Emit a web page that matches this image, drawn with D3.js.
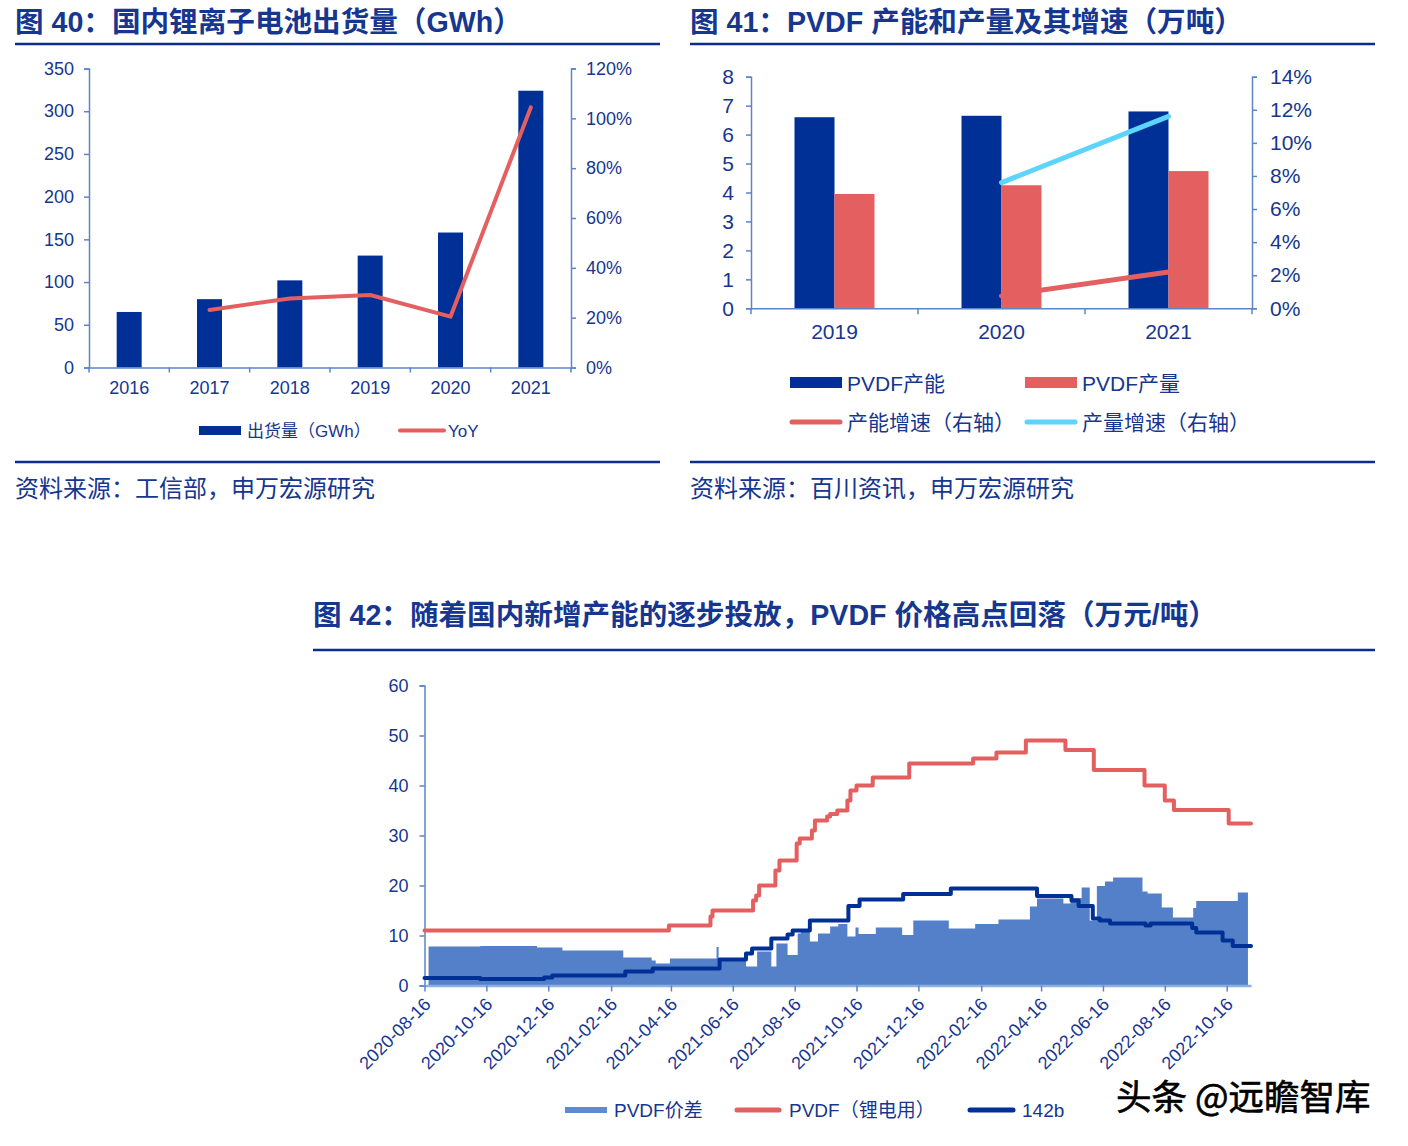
<!DOCTYPE html>
<html>
<head>
<meta charset="utf-8">
<script src="https://cdn.jsdelivr.net/npm/d3@7"></script>
<style>
  body { margin: 0; background: #fff; }
  svg text { font-family: "Liberation Sans", Arial, "Noto Sans CJK SC", sans-serif; }
</style>
</head>
<body>
<script>
// ---- data: 图40 ----
const years40 = ['2016', '2017', '2018', '2019', '2020', '2021'];
const shipments = [65, 80, 102, 131, 158, 324];
const shipYoY = [null, 0.231, 0.277, 0.291, 0.204, 1.044];

// ---- data: 图41 ----
const years41 = ['2019', '2020', '2021'];
const pvdfCapacity = [6.6, 6.65, 6.8];
const pvdfOutput = [3.95, 4.25, 4.74];
const capGrowth = [null, 0.0075, 0.022];
const outGrowth = [null, 0.076, 0.116];

// ---- data: 图42 (万元/吨) ----
const xTickLabels = ['2020-08-16', '2020-10-16', '2020-12-16', '2021-02-16', '2021-04-16', '2021-06-16',
  '2021-08-16', '2021-10-16', '2021-12-16', '2022-02-16', '2022-04-16', '2022-06-16', '2022-08-16', '2022-10-16'];
const pvdfPrice = [
  ['2020-08-16', 11], ['2021-04-14', 12], ['2021-05-25', 13.8], ['2021-05-27', 15], ['2021-07-06', 17],
  ['2021-07-09', 18], ['2021-07-12', 20], ['2021-07-28', 23], ['2021-08-01', 25], ['2021-08-18', 28.4],
  ['2021-08-21', 29.4], ['2021-09-02', 31], ['2021-09-05', 33], ['2021-09-17', 33.8], ['2021-09-20', 34.3],
  ['2021-09-27', 35], ['2021-10-07', 37], ['2021-10-10', 39], ['2021-10-16', 40], ['2021-11-01', 41.6],
  ['2021-12-07', 44.4], ['2022-02-08', 45.4], ['2022-03-03', 46.6], ['2022-04-01', 49], ['2022-05-10', 47.1],
  ['2022-06-07', 43.1], ['2022-07-27', 40], ['2022-08-16', 37], ['2022-08-25', 35.1], ['2022-10-18', 32.4],
  ['2022-11-09', 32.4]
];
const price142b = [
  ['2020-08-16', 1.5], ['2020-10-10', 1.3], ['2020-12-12', 1.6], ['2020-12-20', 2.0], ['2021-03-02', 2.8],
  ['2021-03-29', 3.4], ['2021-06-03', 5.2], ['2021-06-29', 6.4], ['2021-07-05', 7.4], ['2021-07-24', 9.4],
  ['2021-08-09', 10.2], ['2021-08-14', 11], ['2021-08-31', 13], ['2021-10-08', 15.9], ['2021-10-19', 17.2],
  ['2021-12-01', 18.3], ['2022-01-17', 19.4], ['2022-04-12', 17.9], ['2022-05-16', 17], ['2022-05-23', 15.9],
  ['2022-06-06', 13.4], ['2022-06-13', 13], ['2022-06-23', 12.4], ['2022-07-28', 12], ['2022-08-02', 12.4],
  ['2022-09-12', 11.5], ['2022-09-16', 10.6], ['2022-10-12', 9], ['2022-10-22', 7.9], ['2022-11-09', 7.9]
];
const pvdfSpread = [
  ['2020-08-20', 7.8], ['2020-10-10', 7.9], ['2020-12-05', 7.6], ['2020-12-30', 7.0], ['2021-02-28', 5.6],
  ['2021-03-28', 5.0], ['2021-04-01', 4.4], ['2021-04-15', 5.4], ['2021-05-31', 7.7], ['2021-06-02', 5.4],
  ['2021-06-03', 5.2], ['2021-06-29', 3.8], ['2021-07-10', 6.8], ['2021-07-24', 3.8], ['2021-07-29', 8.4],
  ['2021-08-09', 6.1], ['2021-08-19', 10.4], ['2021-08-22', 10.8], ['2021-08-31', 8.8], ['2021-09-08', 10.4],
  ['2021-09-20', 11.8], ['2021-09-28', 12.3], ['2021-10-07', 9.8], ['2021-10-15', 11.6], ['2021-10-18', 10.3],
  ['2021-11-04', 11.6], ['2021-11-30', 10.1], ['2021-12-11', 13], ['2022-01-15', 11.4], ['2022-02-10', 12.3],
  ['2022-03-05', 13.2], ['2022-04-05', 15.8], ['2022-04-12', 17.4], ['2022-05-08', 16.4], ['2022-05-15', 17.5],
  ['2022-05-26', 19.6], ['2022-06-03', 13], ['2022-06-10', 19.9], ['2022-06-18', 20.8], ['2022-06-26', 21.6],
  ['2022-07-25', 18.8], ['2022-07-30', 18.4], ['2022-08-13', 15.6], ['2022-08-24', 13.6], ['2022-09-13', 15.5],
  ['2022-09-16', 16.9], ['2022-10-27', 18.6], ['2022-11-06', 18.6]
];

const NAVY = '#003095';
const RED = '#E46060';
const CYAN = '#5DD4FB';
const AREA = '#5380C8';
const TXT = '#16368F';
const AXIS = '#5B85C8';

const svg = d3.select('body').append('svg')
  .attr('width', 1408)
  .attr('height', 1146);

function styleAxis(g, size) {
  g.select('.domain').attr('stroke', AXIS).attr('stroke-width', 1.5);
  g.selectAll('.tick line').attr('stroke', AXIS).attr('stroke-width', 1.5);
  g.selectAll('.tick text').attr('fill', TXT).style('font-size', size + 'px');
}

function header(x, x2, y, gap, title) {
  svg.append('text').attr('x', x).attr('y', y)
    .attr('fill', TXT).style('font-size', '28.6px').style('font-weight', 'bold')
    .text(title);
  svg.append('line').attr('x1', x).attr('x2', x2).attr('y1', y + gap).attr('y2', y + gap)
    .attr('stroke', '#0D2D8E').attr('stroke-width', 2.5);
}

function footer(x, x2, source) {
  svg.append('line').attr('x1', x).attr('x2', x2).attr('y1', 462).attr('y2', 462)
    .attr('stroke', '#0D2D8E').attr('stroke-width', 2.5);
  svg.append('text').attr('x', x).attr('y', 497)
    .attr('fill', TXT).style('font-size', '24px')
    .text(source);
}

// ================= 图40 =================
header(15, 660, 32, 12, '图 40：国内锂离子电池出货量（GWh）');
footer(15, 660, '资料来源：工信部，申万宏源研究');

const x40 = d3.scaleBand().domain(years40).range([89, 571]);
const y40 = d3.scaleLinear().domain([0, 350]).range([367.5, 68.5]);
const y40r = d3.scaleLinear().domain([0, 1.2]).range([367.5, 68.5]);

svg.append('g').attr('transform', 'translate(89,0)')
  .call(d3.axisLeft(y40).tickValues(d3.range(0, 351, 50)).tickSize(5).tickPadding(10))
  .call(g => styleAxis(g, 18));
svg.append('g').attr('transform', 'translate(571,0)')
  .call(d3.axisRight(y40r).tickValues(d3.range(0, 1.21, 0.2)).tickFormat(d3.format('.0%')).tickSize(5).tickPadding(10))
  .call(g => styleAxis(g, 18));

svg.append('g').selectAll('rect').data(shipments).join('rect')
  .attr('x', (d, i) => x40(years40[i]) + x40.bandwidth() / 2 - 12.5)
  .attr('width', 25)
  .attr('y', d => y40(d))
  .attr('height', d => y40(0) - y40(d))
  .attr('fill', NAVY);

const xa40 = svg.append('g').attr('transform', 'translate(0,367.5)')
  .call(d3.axisBottom(x40).tickSize(0).tickPadding(14))
  .call(g => styleAxis(g, 18));
xa40.selectAll('.bound').data(years40.concat(['end'])).join('line')
  .attr('x1', (d, i) => x40.range()[0] + i * x40.step())
  .attr('x2', (d, i) => x40.range()[0] + i * x40.step())
  .attr('y1', 0).attr('y2', 5)
  .attr('stroke', AXIS).attr('stroke-width', 1.5);

svg.append('path')
  .datum(shipYoY.map((v, i) => [years40[i], v]).filter(d => d[1] != null))
  .attr('d', d3.line().x(d => x40(d[0]) + x40.bandwidth() / 2).y(d => y40r(d[1])))
  .attr('fill', 'none').attr('stroke', RED).attr('stroke-width', 4)
  .attr('stroke-linejoin', 'round').attr('stroke-linecap', 'round');

// legend 40
svg.append('rect').attr('x', 199).attr('y', 426).attr('width', 42).attr('height', 9).attr('fill', NAVY);
svg.append('text').attr('x', 247).attr('y', 437).attr('fill', TXT).style('font-size', '17px').text('出货量（GWh）');
svg.append('line').attr('x1', 400).attr('x2', 444).attr('y1', 430.5).attr('y2', 430.5)
  .attr('stroke', RED).attr('stroke-width', 4).attr('stroke-linecap', 'round');
svg.append('text').attr('x', 448).attr('y', 437).attr('fill', TXT).style('font-size', '17px').text('YoY');

// ================= 图41 =================
header(690, 1375, 32, 12, '图 41：PVDF 产能和产量及其增速（万吨）');
footer(690, 1375, '资料来源：百川资讯，申万宏源研究');

const x41 = d3.scaleBand().domain(years41).range([751, 1252]);
const y41 = d3.scaleLinear().domain([0, 8]).range([308.3, 76.7]);
const y41r = d3.scaleLinear().domain([0, 0.14]).range([308.3, 76.7]);

svg.append('g').attr('transform', 'translate(751,0)')
  .call(d3.axisLeft(y41).tickValues(d3.range(0, 9, 1)).tickSize(5).tickPadding(12))
  .call(g => styleAxis(g, 21));
svg.append('g').attr('transform', 'translate(1252,0)')
  .call(d3.axisRight(y41r).tickValues(d3.range(0, 0.141, 0.02)).tickFormat(d3.format('.0%')).tickSize(5).tickPadding(13))
  .call(g => styleAxis(g, 21));

const c41 = d => x41(d) + x41.bandwidth() / 2;
svg.append('g').selectAll('rect').data(pvdfCapacity).join('rect')
  .attr('x', (d, i) => c41(years41[i]) - 40).attr('width', 40)
  .attr('y', d => y41(d)).attr('height', d => y41(0) - y41(d))
  .attr('fill', NAVY);
svg.append('g').selectAll('rect').data(pvdfOutput).join('rect')
  .attr('x', (d, i) => c41(years41[i])).attr('width', 40)
  .attr('y', d => y41(d)).attr('height', d => y41(0) - y41(d))
  .attr('fill', RED);

const xa41 = svg.append('g').attr('transform', 'translate(0,308.3)')
  .call(d3.axisBottom(x41).tickSize(0).tickPadding(16))
  .call(g => styleAxis(g, 21));
xa41.selectAll('.bound').data(years41.concat(['end'])).join('line')
  .attr('x1', (d, i) => x41.range()[0] + i * x41.step())
  .attr('x2', (d, i) => x41.range()[0] + i * x41.step())
  .attr('y1', 0).attr('y2', 6)
  .attr('stroke', AXIS).attr('stroke-width', 1.5);

const line41 = d3.line().x(d => c41(d[0])).y(d => y41r(d[1]));
[[capGrowth, RED], [outGrowth, CYAN]].forEach(([vals, col]) => {
  svg.append('path')
    .datum(vals.map((v, i) => [years41[i], v]).filter(d => d[1] != null))
    .attr('d', line41)
    .attr('fill', 'none').attr('stroke', col).attr('stroke-width', 5)
    .attr('stroke-linecap', 'round');
});

// legend 41
svg.append('rect').attr('x', 790).attr('y', 377).attr('width', 52).attr('height', 11).attr('fill', NAVY);
svg.append('text').attr('x', 847).attr('y', 391).attr('fill', TXT).style('font-size', '21px').text('PVDF产能');
svg.append('rect').attr('x', 1025).attr('y', 377).attr('width', 52).attr('height', 11).attr('fill', RED);
svg.append('text').attr('x', 1082).attr('y', 391).attr('fill', TXT).style('font-size', '21px').text('PVDF产量');
svg.append('line').attr('x1', 792).attr('x2', 840).attr('y1', 422).attr('y2', 422)
  .attr('stroke', RED).attr('stroke-width', 5).attr('stroke-linecap', 'round');
svg.append('text').attr('x', 847).attr('y', 430).attr('fill', TXT).style('font-size', '21px').text('产能增速（右轴）');
svg.append('line').attr('x1', 1027).attr('x2', 1075).attr('y1', 422).attr('y2', 422)
  .attr('stroke', CYAN).attr('stroke-width', 5).attr('stroke-linecap', 'round');
svg.append('text').attr('x', 1082).attr('y', 430).attr('fill', TXT).style('font-size', '21px').text('产量增速（右轴）');

// ================= 图42 =================
header(313, 1375, 625, 25, '图 42：随着国内新增产能的逐步投放，PVDF 价格高点回落（万元/吨）');

const parse = d3.timeParse('%Y-%m-%d');
const xB = d3.scaleTime().domain([parse('2020-08-16'), parse('2022-11-09')]).range([424.5, 1251]);
const yB = d3.scaleLinear().domain([0, 60]).range([985.5, 685.5]);

svg.append('path')
  .datum(pvdfSpread)
  .attr('d', d3.area().curve(d3.curveStepAfter)
    .x(d => xB(parse(d[0]))).y0(yB(0)).y1(d => yB(d[1])))
  .attr('fill', AREA);

svg.append('g').attr('transform', 'translate(424.5,0)')
  .call(d3.axisLeft(yB).tickValues(d3.range(0, 61, 10)).tickSize(5).tickPadding(11))
  .call(g => styleAxis(g, 18));

const xaB = svg.append('g').attr('transform', 'translate(0,985.5)')
  .call(d3.axisBottom(xB).tickValues(xTickLabels.map(parse)).tickFormat(d3.timeFormat('%Y-%m-%d')).tickSize(6).tickSizeOuter(0))
  .call(g => styleAxis(g, 18));
xaB.select('.domain').attr('stroke', '#8DB0E3').attr('stroke-width', 2.5);
xaB.selectAll('.tick text')
  .attr('text-anchor', 'end')
  .attr('dy', '0.35em')
  .attr('transform', 'translate(-4,9) rotate(-45)');

const stepLine = d3.line().curve(d3.curveStepAfter).x(d => xB(parse(d[0]))).y(d => yB(d[1]));
svg.append('path').datum(pvdfPrice).attr('d', stepLine)
  .attr('fill', 'none').attr('stroke', RED).attr('stroke-width', 4)
  .attr('stroke-linejoin', 'round').attr('stroke-linecap', 'round');
svg.append('path').datum(price142b).attr('d', stepLine)
  .attr('fill', 'none').attr('stroke', NAVY).attr('stroke-width', 4)
  .attr('stroke-linejoin', 'round').attr('stroke-linecap', 'round');

// legend 42
svg.append('line').attr('x1', 565).attr('x2', 607).attr('y1', 1110).attr('y2', 1110)
  .attr('stroke', '#5B8BD0').attr('stroke-width', 6);
svg.append('text').attr('x', 614).attr('y', 1117).attr('fill', TXT).style('font-size', '19px').text('PVDF价差');
svg.append('line').attr('x1', 737).attr('x2', 779).attr('y1', 1110).attr('y2', 1110)
  .attr('stroke', RED).attr('stroke-width', 5).attr('stroke-linecap', 'round');
svg.append('text').attr('x', 789).attr('y', 1117).attr('fill', TXT).style('font-size', '19px').text('PVDF（锂电用）');
svg.append('line').attr('x1', 970).attr('x2', 1013).attr('y1', 1110).attr('y2', 1110)
  .attr('stroke', NAVY).attr('stroke-width', 5).attr('stroke-linecap', 'round');
svg.append('text').attr('x', 1022).attr('y', 1117).attr('fill', TXT).style('font-size', '19px').text('142b');

// watermark
svg.append('text').attr('x', 1116).attr('y', 1110)
  .attr('fill', '#000').attr('stroke', '#000').attr('stroke-width', 0.6)
  .style('font-size', '35.5px').style('font-family', '"Noto Sans CJK SC", sans-serif')
  .text('头条 @远瞻智库');
</script>
</body>
</html>
